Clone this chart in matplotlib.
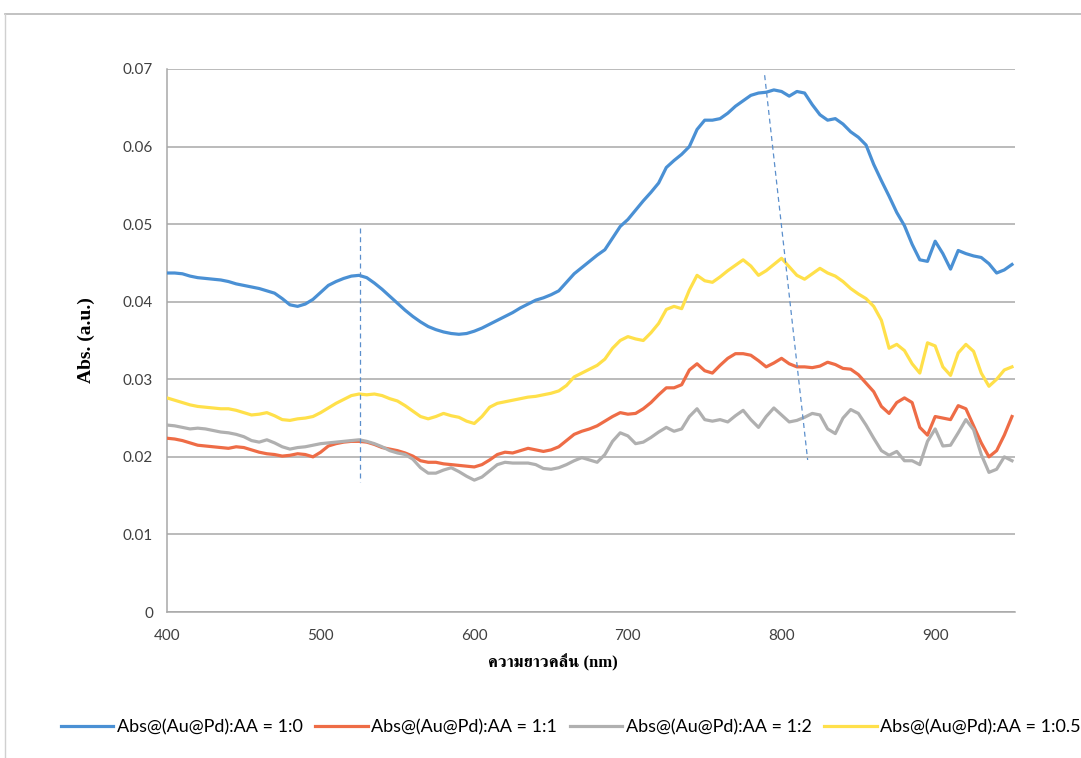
import matplotlib.pyplot as plt
from matplotlib import font_manager
from matplotlib.ft2font import FT2Font
from matplotlib.lines import Line2D
import numpy as np

# wavelength grid (nm), 5 nm steps
WAVELENGTH = np.arange(400, 951, 5)

ABS_1_0 = [
    0.0437, 0.0437, 0.0436, 0.0433, 0.0431, 0.0430, 0.0429, 0.0428, 0.0426, 0.0423,
    0.0421, 0.0419, 0.0417, 0.0414, 0.0411, 0.0404, 0.0396, 0.0394, 0.0397, 0.0403,
    0.0412, 0.0421, 0.0426, 0.0430, 0.0433, 0.0434, 0.0431, 0.0424, 0.0416, 0.0407,
    0.0398, 0.0389, 0.0381, 0.0374, 0.0368, 0.0364, 0.0361, 0.0359, 0.0358, 0.0359,
    0.0362, 0.0366, 0.0371, 0.0376, 0.0381, 0.0386, 0.0392, 0.0397, 0.0402, 0.0405,
    0.0409, 0.0414, 0.0425, 0.0436, 0.0444, 0.0452, 0.0460, 0.0467, 0.0482, 0.0497,
    0.0506, 0.0518, 0.0530, 0.0541, 0.0553, 0.0573, 0.0582, 0.0590, 0.0600, 0.0622,
    0.0634, 0.0634, 0.0636, 0.0643, 0.0652, 0.0659, 0.0666, 0.0669, 0.0670, 0.0673,
    0.0671, 0.0665, 0.0671, 0.0669, 0.0654, 0.0641, 0.0634, 0.0636, 0.0629, 0.0619,
    0.0612, 0.0602, 0.0577, 0.0556, 0.0536, 0.0515, 0.0498, 0.0474, 0.0454, 0.0452,
    0.0478, 0.0462, 0.0442, 0.0466, 0.0462, 0.0459, 0.0457, 0.0449, 0.0437, 0.0441,
    0.0448,
]

ABS_1_1 = [
    0.0224, 0.0223, 0.0221, 0.0218, 0.0215, 0.0214, 0.0213, 0.0212, 0.0211, 0.0213,
    0.0212, 0.0209, 0.0206, 0.0204, 0.0203, 0.0201, 0.0202, 0.0204, 0.0203, 0.0200,
    0.0206, 0.0214, 0.0217, 0.0219, 0.0220, 0.0220, 0.0219, 0.0216, 0.0212, 0.0210,
    0.0208, 0.0205, 0.0201, 0.0195, 0.0193, 0.0193, 0.0191, 0.0190, 0.0189, 0.0188,
    0.0187, 0.0190, 0.0196, 0.0203, 0.0206, 0.0205, 0.0208, 0.0211, 0.0209, 0.0207,
    0.0209, 0.0213, 0.0221, 0.0229, 0.0233, 0.0236, 0.0240, 0.0246, 0.0252, 0.0257,
    0.0255, 0.0256, 0.0262, 0.0270, 0.0280, 0.0289, 0.0289, 0.0293, 0.0312, 0.0320,
    0.0311, 0.0308, 0.0318, 0.0327, 0.0333, 0.0333, 0.0331, 0.0324, 0.0316, 0.0321,
    0.0327, 0.0320, 0.0316, 0.0316, 0.0315, 0.0317, 0.0322, 0.0319, 0.0314, 0.0313,
    0.0306, 0.0295, 0.0284, 0.0265, 0.0256, 0.0270, 0.0276, 0.0270, 0.0238, 0.0228,
    0.0252, 0.0250, 0.0248, 0.0266, 0.0262, 0.0240, 0.0218, 0.0200, 0.0208, 0.0228,
    0.0252,
]

ABS_1_2 = [
    0.0241, 0.0240, 0.0238, 0.0236, 0.0237, 0.0236, 0.0234, 0.0232, 0.0231, 0.0229,
    0.0226, 0.0221, 0.0219, 0.0222, 0.0218, 0.0213, 0.0210, 0.0212, 0.0213, 0.0215,
    0.0217, 0.0218, 0.0219, 0.0220, 0.0221, 0.0222, 0.0220, 0.0217, 0.0213, 0.0208,
    0.0205, 0.0203, 0.0197, 0.0186, 0.0179, 0.0179, 0.0183, 0.0186, 0.0181, 0.0175,
    0.0170, 0.0174, 0.0182, 0.0190, 0.0193, 0.0192, 0.0192, 0.0192, 0.0190, 0.0185,
    0.0184, 0.0186, 0.0190, 0.0195, 0.0199, 0.0196, 0.0193, 0.0203, 0.0220, 0.0231,
    0.0227, 0.0217, 0.0219, 0.0225, 0.0232, 0.0238, 0.0233, 0.0236, 0.0252, 0.0262,
    0.0248, 0.0246, 0.0248, 0.0245, 0.0253, 0.0260, 0.0248, 0.0238, 0.0252, 0.0263,
    0.0254, 0.0245, 0.0247, 0.0251, 0.0256, 0.0254, 0.0236, 0.0230, 0.0250, 0.0261,
    0.0256, 0.0241, 0.0224, 0.0208, 0.0202, 0.0207, 0.0195, 0.0195, 0.0190, 0.0220,
    0.0236, 0.0214, 0.0215, 0.0231, 0.0248, 0.0235, 0.0203, 0.0180, 0.0184, 0.0200,
    0.0195,
]

ABS_1_05 = [
    0.0276, 0.0273, 0.0270, 0.0267, 0.0265, 0.0264, 0.0263, 0.0262, 0.0262, 0.0260,
    0.0257, 0.0254, 0.0255, 0.0257, 0.0253, 0.0248, 0.0247, 0.0249, 0.0250, 0.0252,
    0.0257, 0.0263, 0.0269, 0.0274, 0.0279, 0.0281, 0.0280, 0.0281, 0.0279, 0.0275,
    0.0272, 0.0266, 0.0259, 0.0252, 0.0249, 0.0252, 0.0256, 0.0253, 0.0251, 0.0246,
    0.0243, 0.0252, 0.0264, 0.0269, 0.0271, 0.0273, 0.0275, 0.0277, 0.0278, 0.0280,
    0.0282, 0.0285, 0.0292, 0.0303, 0.0308, 0.0313, 0.0318, 0.0326, 0.0340, 0.0350,
    0.0355, 0.0352, 0.0350, 0.0360, 0.0372, 0.0390, 0.0394, 0.0391, 0.0415, 0.0434,
    0.0427, 0.0425, 0.0432, 0.0440, 0.0447, 0.0454, 0.0446, 0.0434, 0.0440, 0.0448,
    0.0456, 0.0445, 0.0434, 0.0429, 0.0436, 0.0443, 0.0437, 0.0433, 0.0426, 0.0417,
    0.0410, 0.0404, 0.0394, 0.0376, 0.0340, 0.0345, 0.0337, 0.0320, 0.0308, 0.0347,
    0.0343, 0.0316, 0.0305, 0.0334, 0.0345, 0.0336, 0.0308, 0.0291, 0.0300, 0.0312,
    0.0316,
]

SERIES_LABELS = [
    'Abs@(Au@Pd):AA = 1:0',
    'Abs@(Au@Pd):AA = 1:1',
    'Abs@(Au@Pd):AA = 1:2',
    'Abs@(Au@Pd):AA = 1:0.5',
]
COLORS = ['#4A90D4', '#EE6C46', '#B0B0B0', '#FFE04A']

# peak guide lines: (x0, x1), (y0, y1)
PEAK_GUIDES = [
    ((525.5, 525.5), (0.0495, 0.0168)),
    ((789.0, 817.0), (0.0692, 0.0196)),
]

Y_TICKS = [0, 0.01, 0.02, 0.03, 0.04, 0.05, 0.06, 0.07]
X_TICKS = [400, 500, 600, 700, 800, 900]


def find_thai_families():
    """Installed families that carry Thai glyphs (serif ones first)."""
    found = []
    for entry in font_manager.fontManager.ttflist:
        if entry.name in found:
            continue
        try:
            cmap = FT2Font(entry.fname).get_charmap()
        except Exception:
            continue
        if 0x0E04 in cmap and 0x0E27 in cmap:
            found.append(entry.name)
    found.sort(key=lambda n: ('Serif' not in n, n))
    return found


THAI_FAMILIES = find_thai_families()

plt.rcParams['font.family'] = ['Lato', 'DejaVu Sans']

fig = plt.figure(figsize=(10.81, 7.58), dpi=100)
ax = fig.add_axes([0.1545, 0.1926, 0.7845, 0.7164])

all_series = [ABS_1_0, ABS_1_1, ABS_1_2, ABS_1_05]
for vals, lab, col in zip(all_series, SERIES_LABELS, COLORS):
    ax.plot(WAVELENGTH, vals, color=col, lw=2.3, label=lab,
            solid_joinstyle='round', zorder=3)

for xs, ys in PEAK_GUIDES:
    ax.plot(xs, ys, color='#5B8FCC', lw=0.9, ls=(0, (4, 3)), zorder=4)

ax.set_xlim(400, 952)
ax.set_ylim(0, 0.07)
ax.set_xticks(X_TICKS)
ax.set_yticks(Y_TICKS)
ax.set_yticklabels(['0' if t == 0 else f'{t:.2f}' for t in Y_TICKS])
ax.tick_params(length=0, labelsize=11, colors='#404040')
ax.tick_params(axis='x', pad=12)
ax.tick_params(axis='y', pad=10)

ax.grid(axis='y', color='#A8A8A8', lw=1.1)
ax.set_axisbelow(True)
for side in ['top', 'right']:
    ax.spines[side].set_visible(False)
for side in ['left', 'bottom']:
    ax.spines[side].set_color('#A8A8A8')
    ax.spines[side].set_linewidth(1.1)

ax.set_ylabel('Abs. (a.u.)', fontsize=14, fontweight='bold',
              family=['Liberation Serif', 'DejaVu Serif'], labelpad=20)
ax.set_xlabel('ความยาวคลื่น (nm)', fontsize=12, fontweight='bold',
              family=['Liberation Serif'] + THAI_FAMILIES + ['DejaVu Serif'])
ax.xaxis.label.set_va('center')
ax.xaxis.set_label_coords(0.455, -0.094)

fig.legend(loc='center', bbox_to_anchor=(0.528, 0.04), ncol=4, frameon=False,
           fontsize=13, handlelength=2.9, handletextpad=0.2, columnspacing=0.7)

# outer frame of the sheet
fig.add_artist(Line2D([5 / 1081, 1], [1 - 14 / 758, 1 - 14 / 758],
                      transform=fig.transFigure, color='#B8B8B8', lw=1.2))
fig.add_artist(Line2D([5 / 1081, 5 / 1081], [0, 1 - 14 / 758],
                      transform=fig.transFigure, color='#D0D0D0', lw=1.0))

fig.savefig('out.png', dpi=100)
